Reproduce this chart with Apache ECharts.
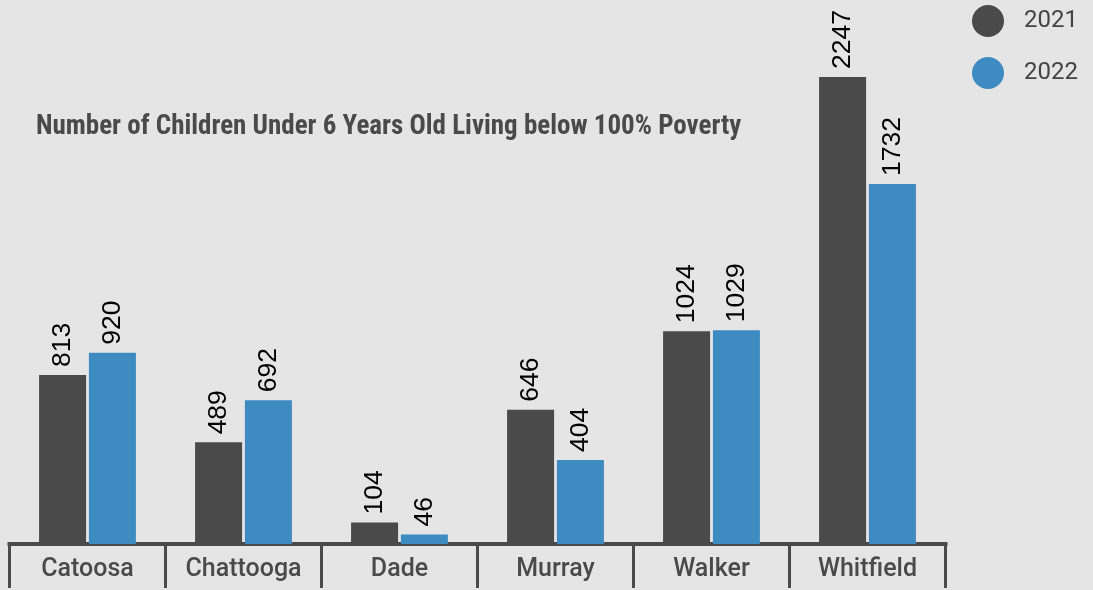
<!DOCTYPE html>
<html>
<head>
<meta charset="utf-8">
<script src="https://cdn.jsdelivr.net/npm/echarts@6/dist/echarts.min.js"></script>
<style>
html,body{margin:0;padding:0;background:#e5e5e5;}
#chart{width:1093px;height:590px;}
</style>
</head>
<body>
<div id="chart"></div>
<script>
const categories = ['Catoosa', 'Chattooga', 'Dade', 'Murray', 'Walker', 'Whitfield'];
const seriesNames = ['2021', '2022'];
const values2021 = [813, 489, 104, 646, 1024, 2247];
const values2022 = [920, 692, 46, 404, 1029, 1732];
const titleText = 'Number of Children Under 6 Years Old Living below 100% Poverty';

const chart = echarts.init(document.getElementById('chart'));
const barLabel = {
  show: true,
  position: 'top',
  rotate: 90,
  align: 'left',
  verticalAlign: 'middle',
  distance: 8,
  color: '#000',
  fontFamily: 'Liberation Sans, Arial, sans-serif',
  fontSize: 26.5
};
chart.setOption({
  backgroundColor: '#e5e5e5',
  animation: false,
  title: {
    text: titleText,
    left: 36,
    top: 114,
    padding: 0,
    textStyle: {
      fontFamily: 'Roboto Condensed, Roboto, sans-serif',
      fontWeight: 'bold',
      fontSize: 27,
      color: '#4a4a4a'
    }
  },
  legend: {
    orient: 'vertical',
    left: 972,
    top: 5,
    padding: 0,
    itemWidth: 32,
    itemHeight: 32,
    itemGap: 20,
    icon: 'circle',
    data: seriesNames,
    textStyle: {
      fontFamily: 'Roboto, sans-serif',
      fontSize: 24,
      color: '#444',
      padding: [0, 0, 0, 15]
    }
  },
  grid: {
    left: 9.5,
    right: 147.5,
    top: 77,
    bottom: 46
  },
  xAxis: {
    type: 'category',
    data: categories,
    axisLine: { show: true, lineStyle: { color: '#4a4a4a', width: 4, cap: 'square' } },
    axisTick: { show: true, length: 44, lineStyle: { color: '#4a4a4a', width: 3 } },
    axisLabel: {
      margin: 13,
      fontFamily: 'Roboto, sans-serif',
      fontSize: 25,
      fontWeight: 500,
      color: '#4a4a4a'
    }
  },
  yAxis: {
    type: 'value',
    min: 0,
    max: 2247,
    show: false,
    splitLine: { show: false }
  },
  series: [
    {
      name: seriesNames[0],
      type: 'bar',
      data: values2021,
      barWidth: 47,
      barGap: '6%',
      itemStyle: { color: '#4a4a4a' },
      label: barLabel
    },
    {
      name: seriesNames[1],
      type: 'bar',
      data: values2022,
      barWidth: 47,
      barGap: '6%',
      itemStyle: { color: '#3e8bc1' },
      label: barLabel
    }
  ]
});
</script>
</body>
</html>
